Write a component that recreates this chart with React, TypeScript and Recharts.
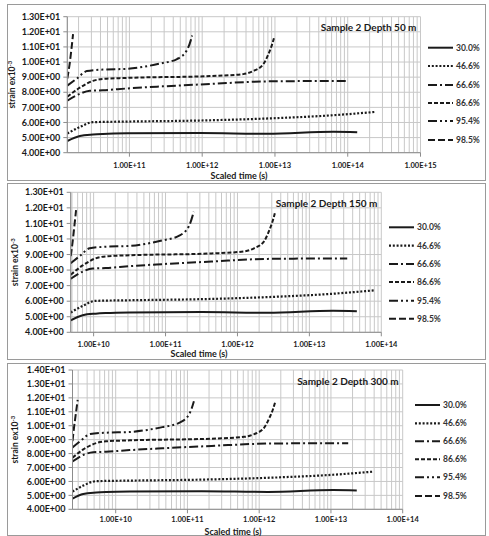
import { LineChart, Line, XAxis, YAxis, CartesianGrid } from 'recharts'

const FONT = 'Lato, "DejaVu Sans", sans-serif'
const INK = '#1a1a1a'

// legend labels (load level) and their dash styles
const levels = ['30.0%', '46.6%', '66.6%', '86.6%', '95.4%', '98.5%']
const dashes = ['', '2 1.8', '9 3 2 3', '4 2', '9 3 2 3 2 3', '7 3']

// strain (x10^-3)
const strain30 = [4.77, 5.1, 5.2, 5.24, 5.28, 5.3, 5.25, 5.38, 5.35]
const strain46 = [5.27, 5.7, 6.02, 6.06, 6.13, 6.28, 6.48, 6.7]
const strain66 = [7.44, 7.9, 8.1, 8.13, 8.25, 8.38, 8.55, 8.72, 8.75]
const strain86 = [7.7, 8.3, 8.75, 8.88, 8.95, 9.07, 9.2, 9.4, 9.85, 10.5, 11.2, 11.65]
const strain95 = [8.44, 8.9, 9.4, 9.5, 9.55, 9.7, 9.9, 10.2, 10.8, 11.5, 11.75]
const strain98 = [8.9, 9.9, 10.9, 11.85]

// scaled time (s) — depth 50 m
const time50_30 = [1.4e10, 2.08e10, 3.16e10, 4.32e10, 9.25e10, 9.35e11, 7.83e12, 6.35e13, 1.35e14]
const time50_46 = [1.4e10, 2.08e10, 3.14e10, 9.25e10, 9.35e11, 9.55e12, 6.35e13, 2.4e14]
const time50_66 = [1.4e10, 2.08e10, 2.86e10, 4.32e10, 9.25e10, 2.63e11, 1.29e12, 7.83e12, 9.9e13]
const time50_86 = [1.4e10, 2.08e10, 3.14e10, 4.32e10, 9.25e10, 1.29e12, 3.66e12, 5.02e12, 6.9e12, 8.09e12, 9.18e12, 9.77e12]
const time50_95 = [1.4e10, 1.89e10, 2.6e10, 4.32e10, 9.25e10, 1.63e11, 2.63e11, 4.51e11, 6.19e11, 7.03e11, 7.26e11]
const time50_98 = [1.4e10, 1.51e10, 1.6e10, 1.68e10]

// depth 150 m
const time150_30 = [4.8e9, 7.05e9, 1.07e10, 1.46e10, 3.13e10, 3.16e11, 2.63e12, 2.14e13, 4.57e13]
const time150_46 = [4.8e9, 7.05e9, 1.06e10, 3.13e10, 3.16e11, 3.24e12, 2.14e13, 8.13e13]
const time150_66 = [4.8e9, 7.05e9, 9.68e9, 1.46e10, 3.13e10, 8.91e10, 4.36e11, 2.65e12, 3.36e13]
const time150_86 = [4.8e9, 7.05e9, 1.06e10, 1.46e10, 3.13e10, 4.36e11, 1.24e12, 1.7e12, 2.34e12, 2.74e12, 3.11e12, 3.31e12]
const time150_95 = [4.8e9, 6.41e9, 8.81e9, 1.46e10, 3.13e10, 5.53e10, 8.91e10, 1.53e11, 2.1e11, 2.38e11, 2.46e11]
const time150_98 = [4.8e9, 5.13e9, 5.42e9, 5.7e9]

// depth 300 m
const time300_30 = [2.5e9, 3.53e9, 5.37e9, 7.33e9, 1.57e10, 1.58e11, 1.32e12, 1.07e13, 2.29e13]
const time300_46 = [2.5e9, 3.53e9, 5.33e9, 1.57e10, 1.58e11, 1.62e12, 1.07e13, 3.8e13]
const time300_66 = [2.5e9, 3.53e9, 4.85e9, 7.33e9, 1.57e10, 4.47e10, 2.18e11, 1.33e12, 1.74e13]
const time300_86 = [2.5e9, 3.53e9, 5.33e9, 7.33e9, 1.57e10, 2.18e11, 6.21e11, 8.53e11, 1.17e12, 1.37e12, 1.56e12, 1.66e12]
const time300_95 = [2.5e9, 3.21e9, 4.42e9, 7.33e9, 1.57e10, 2.77e10, 4.47e10, 7.66e10, 1.05e11, 1.19e11, 1.23e11]
const time300_98 = [2.5e9, 2.63e9, 2.79e9, 2.95e9]

const yTicks13 = [4, 5, 6, 7, 8, 9, 10, 11, 12, 13]
const yTicks14 = [4, 5, 6, 7, 8, 9, 10, 11, 12, 13, 14]

const strains = [strain30, strain46, strain66, strain86, strain95, strain98]
const zip = (ts: number[], vs: number[]) => ts.map((t, i) => ({ t, v: vs[i] }))

const fmtE = (v: number) => {
  const e = Math.floor(Math.log10(v) + 1e-9)
  const m = v / Math.pow(10, e)
  return `${m.toFixed(2)}E${e >= 0 ? '+' : '-'}${String(Math.abs(e)).padStart(2, '0')}`
}

// grid at 1..9 x 10^n inside the domain (Excel log axis minor lines)
const logGrid = (lo: number, hi: number) => {
  const out: number[] = []
  for (let e = Math.floor(Math.log10(lo)); e <= Math.ceil(Math.log10(hi)); e++)
    for (let k = 1; k < 10; k++) {
      const v = k * Math.pow(10, e)
      if (v >= lo * 0.999 && v <= hi * 1.001) out.push(v)
    }
  return out
}
const isDecade = (v: number) => Math.abs(Math.log10(v) - Math.round(Math.log10(v))) < 1e-6

const XTick = ({ x, y, payload, offset }: any) => {
  if (!isDecade(payload.value)) return null
  return (
    <g>
      <line x1={x} x2={x} y1={y} y2={y + 4} stroke="#8c8c8c" />
      <text x={x} y={y + offset} dy="0.35em" textAnchor="middle" fontSize={7.5} fontWeight="bold" fill={INK} fontFamily={FONT}>
        {fmtE(payload.value)}
      </text>
    </g>
  )
}

const YTick = ({ x, y, payload }: any) => (
  <g>
    <line x1={x - 4} x2={x} y1={y} y2={y} stroke="#8c8c8c" />
    <text x={x - 7} y={y} dy="0.35em" textAnchor="end" fontSize={9} fontWeight="bold" fill={INK} fontFamily={FONT}>
      {fmtE(payload.value)}
    </text>
  </g>
)

interface PanelProps {
  top: number
  height: number
  plot: { left: number; right: number; top: number; bottom: number }
  xDomain: [number, number]
  yTicks: number[]
  times: number[][]
  title: string
  legendX: number
  legendY: number[]
  yLabelX: number
  xLabel: { x: number; y: number }
  tickOffset: number
}

const Panel = ({ top, height, plot, xDomain, yTicks, times, title, legendX, legendY, yLabelX, xLabel, tickOffset }: PanelProps) => {
  const yAxisW = 60
  const xAxisH = 20
  const margin = {
    top: plot.top - top,
    left: plot.left - yAxisW,
    right: 489 - plot.right,
    bottom: top + height - plot.bottom - xAxisH,
  }
  const yMid = (plot.top + plot.bottom) / 2 - top
  return (
    <div style={{ position: 'absolute', left: 0, top, width: 489, height }}>
      <div style={{ position: 'absolute', left: 7, top: 0, width: 477, height: height - 2, border: '1px solid #9a9a9a' }} />
      <div style={{ position: 'absolute', left: 0, top: 0 }}>
        <LineChart width={489} height={height} margin={margin}>
          <CartesianGrid stroke="#c8c8c8" strokeWidth={1} />
          <XAxis
            dataKey="t"
            type="number"
            scale="log"
            domain={xDomain}
            allowDataOverflow
            ticks={logGrid(xDomain[0], xDomain[1])}
            interval={0}
            height={xAxisH}
            tickSize={0}
            tickMargin={0}
            tickLine={false}
            axisLine={{ stroke: '#8c8c8c' }}
            tick={<XTick offset={tickOffset} />}
          />
          <YAxis
            type="number"
            domain={[yTicks[0], yTicks[yTicks.length - 1]]}
            ticks={yTicks}
            interval={0}
            width={yAxisW}
            tickSize={0}
            tickMargin={0}
            tickLine={false}
            axisLine={{ stroke: '#8c8c8c' }}
            tick={<YTick />}
          />
          {strains.map((vals, i) => (
            <Line
              key={levels[i]}
              data={zip(times[i], vals)}
              dataKey="v"
              type="monotone"
              stroke={INK}
              strokeWidth={i === 1 ? 2.2 : 2}
              strokeDasharray={dashes[i] || undefined}
              dot={false}
              isAnimationActive={false}
            />
          ))}
        </LineChart>
      </div>
      <svg width={489} height={height} style={{ position: 'absolute', left: 0, top: 0 }} fontFamily={FONT}>
        <text x={plot.right - 4} y={plot.top - top + 11} dy="0.35em" textAnchor="end" fontSize={10} fontWeight="bold" fill={INK}>
          {title}
        </text>
        <text
          transform={`translate(${yLabelX},${yMid}) rotate(-90)`}
          textAnchor="middle"
          dy="0.35em"
          fontSize={8.5}
          fontWeight="bold"
          fill={INK}
        >
          strain ex10<tspan fontSize={6} dy="-3">-3</tspan>
        </text>
        <text x={xLabel.x} y={xLabel.y - top} dy="0.35em" textAnchor="middle" fontSize={9} fontWeight="bold" fill={INK}>
          Scaled time (s)
        </text>
        {levels.map((lab, i) => (
          <g key={lab}>
            <line
              x1={legendX}
              x2={legendX + 25}
              y1={legendY[i] - top}
              y2={legendY[i] - top}
              stroke={INK}
              strokeWidth={i === 1 ? 2.2 : 2}
              strokeDasharray={dashes[i] || undefined}
            />
            <text x={legendX + 28} y={legendY[i] - top} dy="0.35em" fontSize={8.5} fontWeight="bold" fill="#333">
              {lab}
            </text>
          </g>
        ))}
      </svg>
    </div>
  )
}

export default function App() {
  return (
    <div style={{ position: 'absolute', left: 0, top: 0, width: 489, height: 536, background: '#fff' }}>
      <Panel
        top={4}
        height={177}
        plot={{ left: 67.3, right: 420.5, top: 16.7, bottom: 152.7 }}
        xDomain={[1.4e10, 1e15]}
        yTicks={yTicks13}
        times={[time50_30, time50_46, time50_66, time50_86, time50_95, time50_98]}
        title="Sample 2 Depth 50 m"
        legendX={428}
        legendY={[47.7, 66, 85, 103, 121, 140]}
        yLabelX={12}
        xLabel={{ x: 239, y: 175.5 }}
        tickOffset={13}
      />
      <Panel
        top={183}
        height={177}
        plot={{ left: 70.7, right: 381.3, top: 192.3, bottom: 332.3 }}
        xDomain={[4.8e9, 1e14]}
        yTicks={yTicks13}
        times={[time150_30, time150_46, time150_66, time150_86, time150_95, time150_98]}
        title="Sample 2 Depth 150 m"
        legendX={389}
        legendY={[227.3, 245.7, 264, 282, 300.7, 318.7]}
        yLabelX={15}
        xLabel={{ x: 199, y: 354 }}
        tickOffset={12.5}
      />
      <Panel
        top={363}
        height={173}
        plot={{ left: 72.5, right: 402.7, top: 370, bottom: 509.3 }}
        xDomain={[2.5e9, 1e14]}
        yTicks={yTicks14}
        times={[time300_30, time300_46, time300_66, time300_86, time300_95, time300_98]}
        title="Sample 2 Depth 300 m"
        legendX={415}
        legendY={[405, 423.3, 441.3, 459.3, 477.3, 496]}
        yLabelX={15}
        xLabel={{ x: 233, y: 531.5 }}
        tickOffset={10.5}
      />
    </div>
  )
}
